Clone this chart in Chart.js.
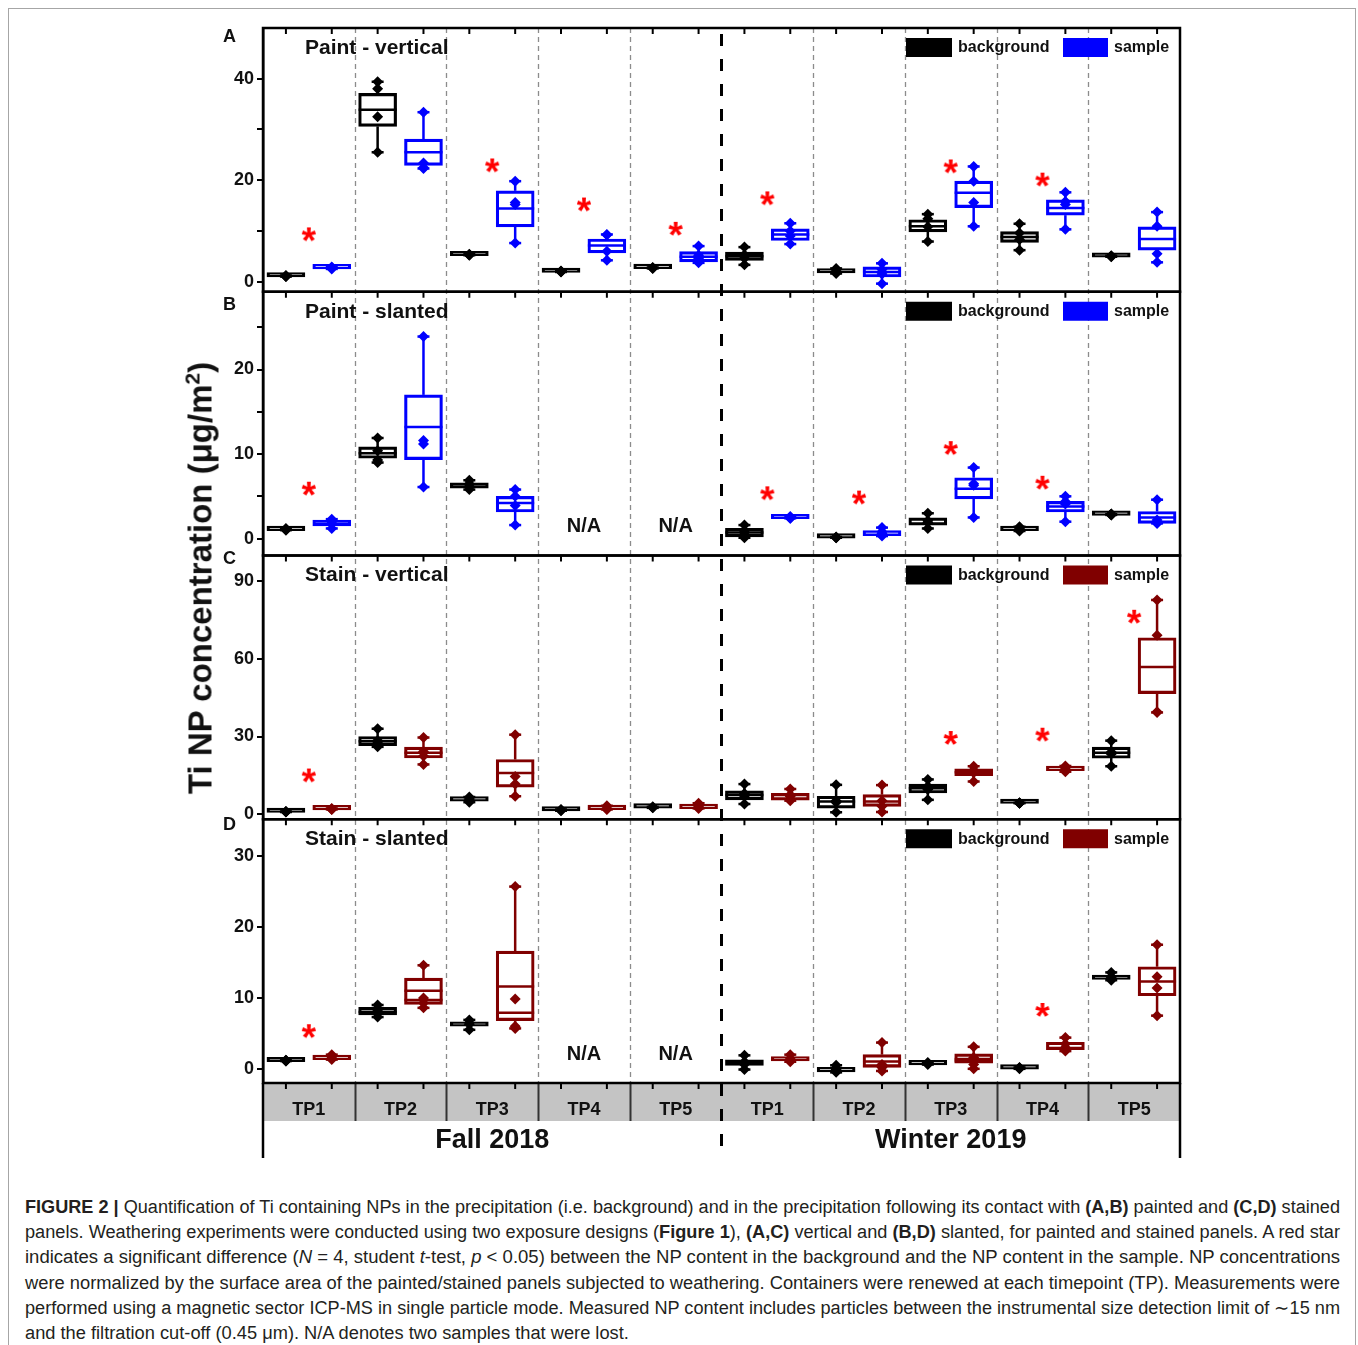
<!DOCTYPE html>
<html>
<head>
<meta charset="utf-8">
<script src="https://cdn.jsdelivr.net/npm/chart.js@4.4.1/dist/chart.umd.min.js"></script>
<style>
  body { margin: 0; background: #fff; width: 1358px; height: 1345px; position: relative; overflow: hidden;
         font-family: "Liberation Sans", Arial, sans-serif; }
  #frame { position: absolute; left: 8px; top: 8px; width: 1346px; height: 1400px; border: 1px solid #a6a6a6; }
  #plot { position: absolute; left: 0; top: 0; }
  #ytitle { position: absolute; left: 200px; top: 578px; transform: translate(-50%, -50%) rotate(-90deg);
            white-space: nowrap; font-weight: bold; font-size: 33px; color: #111; }
  #caption { position: absolute; left: 25px; top: 1195px; width: 1315px; font-size: 18px; color: #231f20; }
  .cl { display: block; width: max-content; white-space: nowrap; line-height: 25.2px; transform-origin: 0 0; }
</style>
</head>
<body>
<div id="frame"></div>
<canvas id="plot" width="1358" height="1180"></canvas>
<div id="ytitle">Ti NP concentration (μg/m<sup style="font-size:21px">2</sup>)</div>
<div id="caption">
  <div class="cl"><b>FIGURE 2 |</b> Quantification of Ti containing NPs in the precipitation (i.e. background) and in the precipitation following its contact with <b>(A,B)</b> painted and <b>(C,D)</b> stained</div>
  <div class="cl">panels. Weathering experiments were conducted using two exposure designs (<b>Figure 1</b>), <b>(A,C)</b> vertical and <b>(B,D)</b> slanted, for painted and stained panels. A red star</div>
  <div class="cl">indicates a significant difference (<i>N</i> = 4, student <i>t</i>-test, <i>p</i> &lt; 0.05) between the NP content in the background and the NP content in the sample. NP concentrations</div>
  <div class="cl">were normalized by the surface area of the painted/stained panels subjected to weathering. Containers were renewed at each timepoint (TP). Measurements were</div>
  <div class="cl">performed using a magnetic sector ICP-MS in single particle mode. Measured NP content includes particles between the instrumental size detection limit of ∼15 nm</div>
  <div class="cl">and the filtration cut-off (0.45 μm). N/A denotes two samples that were lost.</div>
</div>
<script>
// time points: Fall 2018 TP1-5, then Winter 2019 TP1-5
const categories = ["TP1", "TP2", "TP3", "TP4", "TP5", "TP1", "TP2", "TP3", "TP4", "TP5"];
const seasons = ["Fall 2018", "Winter 2019"];
const panelTitles = ["Paint - vertical", "Paint - slanted", "Stain - vertical", "Stain - slanted"];
const panelLetters = ["A", "B", "C", "D"];

// box = [q1, q3, centre lines...], points = the four replicates
// A: paint, vertical
const paintVertBgPts = [
  [1.2, 1.1, 1.0, 1.0], [39.4, 38.0, 32.5, 25.5], [5.4, 5.3, 5.3, 5.2], [2.1, 2.0, 2.0, 1.9], [2.8, 2.7, 2.7, 2.6],
  [6.8, 5.3, 4.6, 3.3], [2.6, 2.1, 1.9, 1.6], [13.3, 12.4, 10.8, 7.9], [11.4, 9.6, 8.3, 6.2], [5.1, 5.0, 5.0, 4.9]
];
const paintVertBgBox = [
  [0.9, 1.2], [30.6, 37.1, 33.9], [5.1, 5.5], [1.8, 2.2], [2.55, 2.85],
  [4.2, 5.8, 5.0], [1.7, 2.3], [9.8, 12.2, 10.9], [7.75, 9.85, 8.8], [4.8, 5.2]
];
const paintVertSmPts = [
  [2.9, 2.8, 2.7, 2.5], [33.4, 23.4, 22.5, 22.3], [19.8, 15.6, 15.2, 7.6], [9.3, 9.2, 6.0, 4.2], [7.0, 5.2, 4.6, 3.7],
  [11.5, 10.0, 9.0, 7.4], [3.6, 2.4, 1.5, -0.4], [22.7, 19.8, 15.6, 10.9], [17.6, 15.8, 15.2, 10.3], [13.7, 10.9, 5.5, 3.8]
];
const paintVertSmBox = [
  [2.5, 2.95], [22.9, 28.1, 25.5], [10.8, 17.9, 14.4], [5.65, 8.4, 7.1], [3.9, 5.9, 4.9],
  [8.1, 10.4, 9.3], [0.9, 2.9, 1.9], [14.6, 19.8, 17.5], [13.1, 16.1, 14.5], [6.2, 10.8, 8.4]
];
const paintVertStars = [9.3, null, 22.9, 15.2, 10.4, 16.4, null, 22.7, 20.1, null];

// B: paint, slanted
const paintSlantBgPts = [
  [1.2, 1.1, 1.1, 1.0], [11.9, 10.4, 9.3, 9.0], [6.9, 6.5, 6.2, 5.8], null, null,
  [1.6, 0.9, 0.5, 0.1], [0.2, 0.15, 0.1, 0.1], [3.0, 2.1, 1.9, 1.2], [1.4, 1.2, 1.0, 0.9], [2.9, 2.9, 2.8, 2.8]
];
const paintSlantBgBox = [
  [0.95, 1.15], [9.5, 10.85, 10.1], [5.95, 6.6], null, null,
  [0.2, 1.2, 0.73], [0.05, 0.25], [1.6, 2.45], [0.95, 1.25], [2.75, 2.95]
];
const paintSlantSmPts = [
  [2.3, 2.0, 1.8, 1.2], [23.9, 11.6, 11.2, 6.1], [5.8, 5.0, 3.9, 1.6], null, null,
  [2.6, 2.5, 2.4, 2.4], [1.3, 0.8, 0.6, 0.3], [8.4, 6.5, 6.3, 2.5], [5.0, 4.4, 4.1, 2.0], [4.6, 2.2, 1.9, 1.8]
];
const paintSlantSmBox = [
  [1.5, 2.2], [9.35, 17.0, 13.2], [3.15, 5.0, 4.2], null, null,
  [2.35, 2.6], [0.35, 0.95], [4.7, 7.2, 5.9], [3.15, 4.4, 3.8], [1.8, 3.2, 2.5]
];
const paintSlantStars = [5.9, null, null, null, null, 5.35, 4.85, 10.7, 6.6, null];

// C: stain, vertical
const stainVertBgPts = [
  [1.0, 0.9, 0.9, 0.8], [33.0, 28.5, 27.5, 26.0], [6.6, 5.8, 5.3, 4.6], [1.8, 1.6, 1.5, 1.3], [2.8, 2.6, 2.5, 2.4],
  [11.6, 8.0, 7.0, 3.9], [11.3, 5.2, 4.5, 0.7], [13.4, 10.8, 9.5, 5.5], [4.4, 4.3, 4.2, 4.2], [28.4, 24.0, 23.2, 18.5]
];
const stainVertBgBox = [
  [0.6, 1.2], [26.5, 30.0, 28.2], [5.0, 6.0], [1.2, 1.8], [2.3, 2.9],
  [5.5, 9.0, 7.4], [2.3, 6.9, 4.9], [8.15, 11.6, 10.0], [4.1, 4.4], [21.6, 25.9, 23.7]
];
const stainVertSmPts = [
  [2.2, 2.0, 1.9, 1.8], [29.6, 24.2, 22.5, 19.2], [30.7, 14.5, 11.6, 6.9], [3.2, 2.3, 2.0, 1.8], [4.2, 2.8, 2.5, 2.2],
  [9.7, 7.5, 6.8, 5.2], [11.2, 5.2, 3.0, 0.8], [18.5, 17.0, 16.0, 12.6], [18.6, 18.3, 17.8, 16.4], [82.8, 69.2, 39.6, 39.3]
];
const stainVertSmBox = [
  [1.6, 2.3], [21.7, 25.9, 23.7], [10.4, 21.1, 15.9], [1.7, 2.6], [2.1, 3.0],
  [5.4, 8.0], [3.0, 7.5, 4.9], [14.9, 17.5, 16.2], [16.8, 18.5], [46.6, 68.2, 56.9]
];
const stainVertStars = [14.9, null, null, null, null, null, null, 29.4, 30.7, 76.3];

// D: stain, slanted
const stainSlantBgPts = [
  [1.2, 1.2, 1.1, 1.1], [9.0, 8.3, 7.8, 7.3], [6.9, 6.5, 6.3, 5.5], null, null,
  [1.9, 1.0, 0.6, -0.1], [0.5, 0.1, -0.1, -0.5], [0.9, 0.8, 0.7, 0.6], [0.2, 0.1, 0.1, 0.0], [13.6, 13.0, 12.9, 12.5]
];
const stainSlantBgBox = [
  [1.0, 1.3], [7.6, 8.66, 8.0], [6.0, 6.6], null, null,
  [0.47, 1.27], [-0.3, 0.2], [0.55, 0.85], [-0.05, 0.2], [12.6, 13.2]
];
const stainSlantSmPts = [
  [2.0, 1.7, 1.5, 1.3], [14.6, 10.0, 9.3, 8.6], [25.7, 9.85, 6.0, 5.7], null, null,
  [2.0, 1.4, 1.3, 1.0], [3.7, 0.6, 0.2, -0.3], [3.1, 1.6, 0.6, 0.0], [4.4, 3.5, 3.0, 2.5], [17.5, 13.0, 11.4, 7.5]
];
const stainSlantSmBox = [
  [1.3, 1.95], [9.1, 12.8, 11.0, 9.7], [6.8, 16.6, 11.6, 7.9], null, null,
  [1.1, 1.6], [0.2, 2.0, 1.05, 0.45], [0.8, 2.1, 1.4, 1.1], [2.7, 3.75], [10.3, 14.4, 12.3]
];
const stainSlantStars = [5.3, null, null, null, null, null, null, null, 8.3, null];

// y axis ticks (all marks) and the ones that carry a label
const ticksA = [0, 10, 20, 30, 40], labelsA = [0, 20, 40];
const ticksB = [0, 5, 10, 15, 20, 25], labelsB = [0, 10, 20];
const ticksC = [0, 15, 30, 45, 60, 75, 90], labelsC = [0, 30, 60, 90];
const ticksD = [0, 5, 10, 15, 20, 25, 30], labelsD = [0, 10, 20, 30];

const BLUE = "#0000ff";
const MAROON = "#800000";
const BOX_W = 38;
const BAND_H = 38;
const FONT = "'Liberation Sans', Arial, sans-serif";

const panels = [
  { id: "yA", min: -2, max: 50, ticks: ticksA, labels: labelsA, bgPts: paintVertBgPts, bgBox: paintVertBgBox,
    smPts: paintVertSmPts, smBox: paintVertSmBox, stars: paintVertStars, color: BLUE, letterDy: 9 },
  { id: "yB", min: -2, max: 29.2, ticks: ticksB, labels: labelsB, bgPts: paintSlantBgPts, bgBox: paintSlantBgBox,
    smPts: paintSlantSmPts, smBox: paintSlantSmBox, stars: paintSlantStars, color: BLUE, letterDy: 13 },
  { id: "yC", min: -2, max: 100, ticks: ticksC, labels: labelsC, bgPts: stainVertBgPts, bgBox: stainVertBgBox,
    smPts: stainVertSmPts, smBox: stainVertSmBox, stars: stainVertStars, color: MAROON, letterDy: 4 },
  { id: "yD", min: -2, max: 35.2, ticks: ticksD, labels: labelsD, bgPts: stainSlantBgPts, bgBox: stainSlantBgBox,
    smPts: stainSlantSmPts, smBox: stainSlantSmBox, stars: stainSlantStars, color: MAROON, letterDy: 6 }
];

// red asterisk used as point style for the significance marks
function makeAsterisk() {
  const c = document.createElement("canvas");
  c.width = 24;
  c.height = 24;
  const g = c.getContext("2d");
  g.font = "bold 37px " + FONT;
  g.fillStyle = "#ff0000";
  g.textAlign = "center";
  const m = g.measureText("*");
  const base = 12 + (m.actualBoundingBoxAscent - m.actualBoundingBoxDescent) / 2;
  g.fillText("*", 12, base);
  return c;
}
const asterisk = makeAsterisk();

function buildDatasets() {
  const sets = [];
  panels.forEach((p) => {
    [[p.bgBox, p.bgPts, "#000000", 0.25], [p.smBox, p.smPts, p.color, 0.75]].forEach(([boxes, pts, col, off]) => {
      sets.push({
        type: "bar",
        yAxisID: p.id,
        data: boxes.map((b, i) => (b ? { x: i + off, y: [b[0], b[1]] } : null)).filter(Boolean),
        borderColor: col,
        backgroundColor: "rgba(255,255,255,0)",
        borderWidth: 2.5,
        borderSkipped: false,
        barThickness: BOX_W,
        minBarLength: 4.5,
        grouped: false,
        order: 2
      });
      const flat = [];
      pts.forEach((vals, i) => {
        if (vals) vals.forEach((v) => flat.push({ x: i + off, y: v }));
      });
      sets.push({
        type: "scatter",
        yAxisID: p.id,
        data: flat,
        pointStyle: "rectRot",
        pointRadius: 5.5,
        backgroundColor: col,
        borderColor: col,
        borderWidth: 0,
        order: 1
      });
    });
    sets.push({
      type: "scatter",
      yAxisID: p.id,
      data: p.stars.map((v, i) => (v == null ? null : { x: i + 0.5, y: v })).filter(Boolean),
      pointStyle: asterisk,
      pointRadius: 8,
      order: 0
    });
  });
  return sets;
}

function buildScales() {
  const scales = {
    x: {
      type: "linear",
      offset: false,
      min: 0,
      max: categories.length,
      afterBuildTicks: (s) => { s.ticks = categories.map((c, i) => ({ value: i + 0.5 })); },
      afterFit: (s) => { s.height = BAND_H; },
      ticks: {
        autoSkip: false,
        maxRotation: 0,
        padding: 8,
        color: "#111",
        font: { family: FONT, size: 18, weight: "bold" },
        callback: (v, i) => categories[i]
      },
      grid: { display: false, offset: false },
      border: { display: false }
    }
  };
  panels.forEach((p, k) => {
    scales[p.id] = {
      type: "linear",
      position: "left",
      stack: "panels",
      stackWeight: 1,
      weight: panels.length - k,
      min: p.min,
      max: p.max,
      afterBuildTicks: (s) => { s.ticks = p.ticks.map((v) => ({ value: v })); },
      afterFit: (s) => { s.width = 60; },
      ticks: {
        padding: 3,
        color: "#111",
        font: { family: FONT, size: 18, weight: "bold" },
        callback: (v) => (p.labels.includes(v) ? String(v) : "")
      },
      grid: { drawOnChartArea: false, tickLength: 6, color: "#000", lineWidth: 2 },
      border: { color: "#000", width: 2.5 }
    };
  });
  return scales;
}

function seg(ctx, x1, y1, x2, y2) {
  ctx.beginPath();
  ctx.moveTo(x1, y1);
  ctx.lineTo(x2, y2);
  ctx.stroke();
}

const figureDecor = {
  id: "figureDecor",
  beforeDraw(chart) {
    const { ctx, chartArea: a } = chart;
    ctx.save();
    ctx.fillStyle = "#c4c4c4";
    ctx.fillRect(a.left, a.bottom, a.right - a.left, BAND_H);
    ctx.restore();
  },
  beforeDatasetsDraw(chart) {
    const { ctx, chartArea: a, scales } = chart;
    const x = scales.x;
    ctx.save();
    // time point separators
    for (let i = 1; i < categories.length; i++) {
      if (i === 5) continue;
      const px = Math.round(x.getPixelForValue(i)) + 0.5;
      ctx.strokeStyle = "#8c8c8c";
      ctx.lineWidth = 1.3;
      ctx.setLineDash([5, 4]);
      seg(ctx, px, a.top, px, a.bottom);
      ctx.setLineDash([]);
      ctx.strokeStyle = "#333";
      ctx.lineWidth = 2;
      seg(ctx, px, a.bottom, px, a.bottom + BAND_H);
    }
    // season divider
    const mid = x.getPixelForValue(5);
    ctx.strokeStyle = "#000";
    ctx.lineWidth = 3;
    ctx.setLineDash([12, 13]);
    seg(ctx, mid, a.top + 6, mid, a.bottom + BAND_H + 37);
    ctx.setLineDash([]);

    // whiskers, caps and centre lines of each box
    panels.forEach((p) => {
      const y = scales[p.id];
      [[p.bgPts, p.bgBox, "#000000", 0.25], [p.smPts, p.smBox, p.color, 0.75]].forEach(([pts, boxes, col, off]) => {
        pts.forEach((vals, i) => {
          if (!vals) return;
          const b = boxes[i];
          const cx = x.getPixelForValue(i + off);
          const hi = y.getPixelForValue(Math.max(...vals));
          const lo = y.getPixelForValue(Math.min(...vals));
          ctx.strokeStyle = col;
          ctx.lineWidth = 2.5;
          seg(ctx, cx, hi, cx, y.getPixelForValue(b[1]));
          seg(ctx, cx, y.getPixelForValue(b[0]), cx, lo);
          seg(ctx, cx - 6, hi, cx + 6, hi);
          seg(ctx, cx - 6, lo, cx + 6, lo);
          b.slice(2).forEach((v) => {
            const py = y.getPixelForValue(v);
            seg(ctx, cx - BOX_W / 2, py, cx + BOX_W / 2, py);
          });
        });
      });
    });
    ctx.restore();
  },
  afterDatasetsDraw(chart) {
    const { ctx, chartArea: a, scales } = chart;
    const x = scales.x;
    ctx.save();
    ctx.strokeStyle = "#000";
    ctx.lineWidth = 2.5;
    const tops = panels.map((p) => scales[p.id].top).concat([a.bottom]);
    // panel frames
    panels.forEach((p) => {
      const y = scales[p.id];
      ctx.strokeRect(a.left, y.top, a.right - a.left, y.bottom - y.top);
    });
    seg(ctx, a.left, a.bottom, a.left, a.bottom + BAND_H + 37);
    seg(ctx, a.right, a.bottom, a.right, a.bottom + BAND_H + 37);
    // inward tick marks at the top of each panel and the band
    ctx.lineWidth = 2;
    tops.forEach((t) => {
      for (let k = 0; k < categories.length * 2; k++) {
        const px = x.getPixelForValue(k * 0.5 + 0.25);
        seg(ctx, px, t, px, t + 6);
      }
    });

    panels.forEach((p, k) => {
      const y = scales[p.id];
      const t = y.top;
      ctx.fillStyle = "#111";
      ctx.textBaseline = "middle";
      // panel title
      ctx.textAlign = "left";
      ctx.font = "bold 21px " + FONT;
      ctx.fillText(panelTitles[k], a.left + 42, t + 20);
      // panel letter
      ctx.font = "bold 18px " + FONT;
      ctx.fillText(panelLetters[k], a.left - 40, t + p.letterDy);
      // legend
      ctx.fillStyle = "#000";
      ctx.fillRect(a.right - 274, t + 10, 46, 19);
      ctx.fillStyle = p.color;
      ctx.fillRect(a.right - 117, t + 10, 45, 19);
      ctx.fillStyle = "#111";
      ctx.font = "bold 16px " + FONT;
      ctx.fillText("background", a.right - 222, t + 20);
      ctx.fillText("sample", a.right - 66, t + 20);
      // lost samples
      ctx.textAlign = "center";
      ctx.font = "bold 20px " + FONT;
      p.bgPts.forEach((vals, i) => {
        if (!vals && !p.smPts[i]) ctx.fillText("N/A", x.getPixelForValue(i + 0.5), y.bottom - 29);
      });
    });

    // season labels
    ctx.textAlign = "center";
    ctx.textBaseline = "middle";
    ctx.font = "bold 27px " + FONT;
    ctx.fillStyle = "#111";
    ctx.fillText(seasons[0], x.getPixelForValue(2.5), a.bottom + BAND_H + 20);
    ctx.fillText(seasons[1], x.getPixelForValue(7.5), a.bottom + BAND_H + 20);
    ctx.restore();
  }
};

new Chart(document.getElementById("plot"), {
  type: "scatter",
  data: { datasets: buildDatasets() },
  options: {
    responsive: false,
    animation: false,
    layout: { padding: { left: 203, right: 178, top: 28, bottom: 59 } },
    scales: buildScales(),
    plugins: { legend: { display: false }, tooltip: { enabled: false } }
  },
  plugins: [figureDecor]
});

// squeeze each caption line to the justified width, like the condensed journal font
const capLines = Array.from(document.querySelectorAll("#caption .cl"));
const capFactors = capLines.map((l) => 1315 / l.getBoundingClientRect().width);
const avgFactor = capFactors.slice(0, -1).reduce((s, f) => s + f, 0) / (capFactors.length - 1);
capLines.forEach((l, k) => {
  const f = k < capLines.length - 1 ? capFactors[k] : avgFactor;
  l.style.transform = "scaleX(" + f + ")";
});
</script>
</body>
</html>
